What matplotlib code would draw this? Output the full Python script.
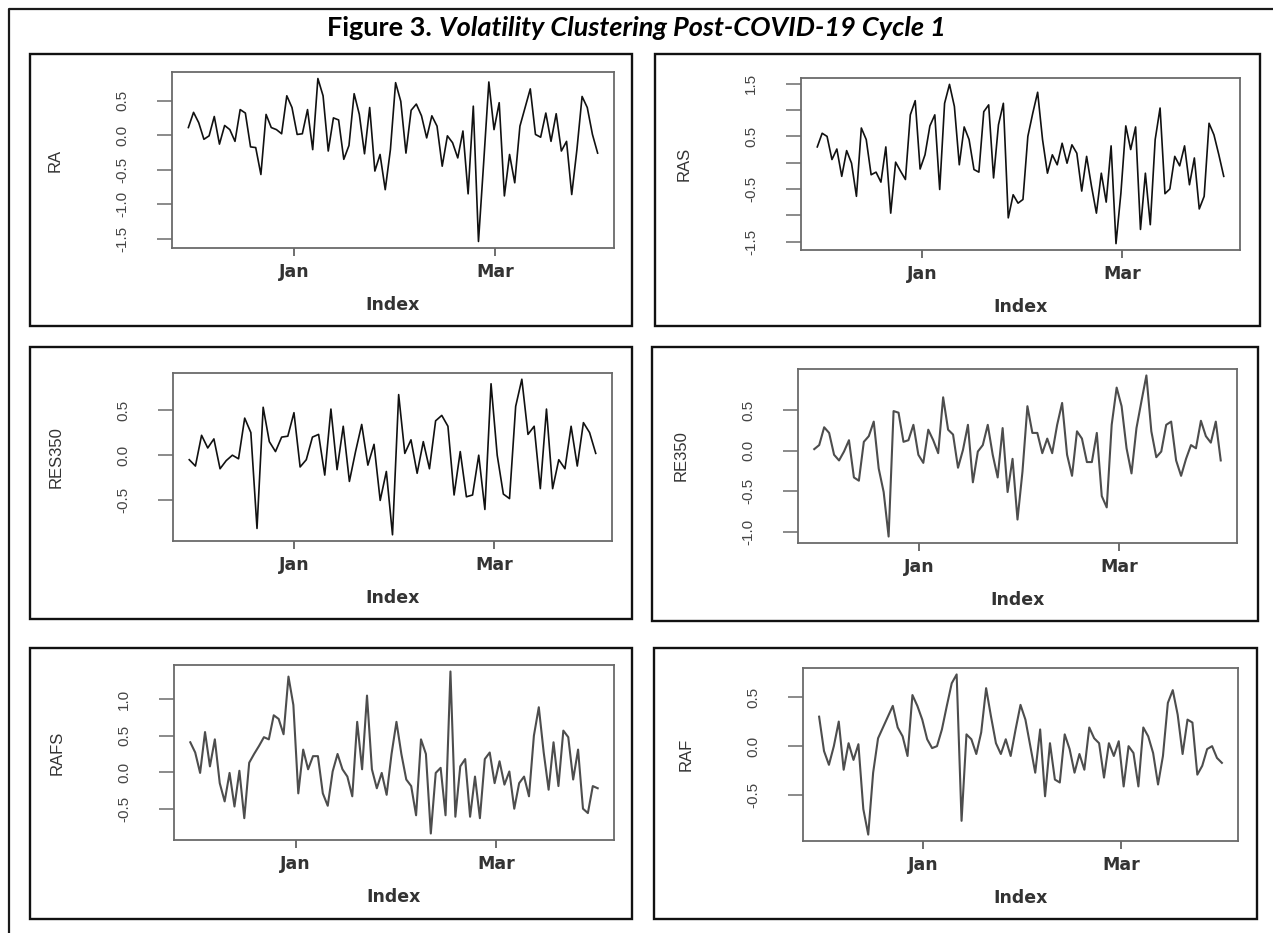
import matplotlib
matplotlib.use("Agg")
import matplotlib.pyplot as plt
import pandas as pd
from matplotlib.lines import Line2D
from matplotlib.patches import Rectangle

# series (Dec 2020 - Mar 2021)
ra = [0.11, 0.33, 0.18, -0.06, -0.01, 0.27, -0.13, 0.14, 0.08, -0.09,
      0.37, 0.32, -0.17, -0.18, -0.57, 0.30, 0.11, 0.08, 0.02, 0.57,
      0.40, 0.01, 0.02, 0.37, -0.21, 0.82, 0.57, -0.23, 0.25, 0.22,
      -0.35, -0.15, 0.60, 0.30, -0.27, 0.40, -0.52, -0.28, -0.79, -0.21,
      0.76, 0.49, -0.26, 0.36, 0.45, 0.28, -0.04, 0.28, 0.13, -0.45,
      -0.01, -0.11, -0.33, 0.06, -0.85, 0.42, -1.54, -0.40, 0.77, 0.08,
      0.47, -0.88, -0.28, -0.69, 0.13, 0.40, 0.67, 0.01, -0.03, 0.32,
      -0.09, 0.31, -0.23, -0.09, -0.86, -0.21, 0.56, 0.40, 0.01, -0.26]
ras = [0.30, 0.56, 0.50, 0.06, 0.26, -0.26, 0.23, -0.01, -0.64, 0.66,
       0.44, -0.23, -0.18, -0.37, 0.30, -0.96, 0.01, -0.16, -0.32, 0.91,
       1.18, -0.12, 0.15, 0.70, 0.91, -0.51, 1.13, 1.49, 1.07, -0.04,
       0.68, 0.44, -0.13, -0.18, 0.97, 1.10, -0.29, 0.72, 1.13, -1.05,
       -0.61, -0.77, -0.70, 0.50, 0.94, 1.34, 0.44, -0.20, 0.15, -0.04,
       0.37, -0.01, 0.34, 0.18, -0.54, 0.12, -0.45, -0.96, -0.20, -0.75,
       0.32, -1.54, -0.58, 0.70, 0.25, 0.68, -1.27, -0.20, -1.18, 0.44,
       1.04, -0.59, -0.50, 0.12, -0.06, 0.32, -0.42, 0.09, -0.88, -0.64,
       0.75, 0.53, 0.15, -0.26]
res350 = [-0.05, -0.12, 0.22, 0.08, 0.18, -0.15, -0.06, 0.00, -0.04, 0.41,
          0.25, -0.81, 0.53, 0.15, 0.04, 0.20, 0.21, 0.47, -0.13, -0.05,
          0.20, 0.23, -0.22, 0.51, -0.16, 0.32, -0.29, 0.04, 0.34, -0.11,
          0.12, -0.50, -0.18, -0.88, 0.67, 0.02, 0.17, -0.20, 0.15, -0.15,
          0.38, 0.44, 0.32, -0.44, 0.04, -0.46, -0.44, 0.00, -0.60, 0.79,
          0.00, -0.43, -0.48, 0.54, 0.84, 0.23, 0.32, -0.37, 0.51, -0.37,
          -0.05, -0.15, 0.32, -0.12, 0.36, 0.25, 0.02]
re350 = [0.02, 0.07, 0.29, 0.22, -0.05, -0.12, -0.01, 0.13, -0.33, -0.37,
         0.11, 0.18, 0.36, -0.22, -0.51, -1.06, 0.49, 0.47, 0.11, 0.13,
         0.32, -0.05, -0.15, 0.26, 0.13, -0.03, 0.66, 0.26, 0.20, -0.21,
         0.01, 0.32, -0.39, -0.01, 0.07, 0.32, -0.05, -0.33, 0.28, -0.51,
         -0.10, -0.85, -0.26, 0.55, 0.22, 0.22, -0.03, 0.15, -0.03, 0.32,
         0.59, -0.05, -0.31, 0.24, 0.15, -0.14, -0.14, 0.22, -0.56, -0.70,
         0.32, 0.78, 0.55, 0.03, -0.28, 0.28, 0.61, 0.93, 0.24, -0.08,
         -0.01, 0.32, 0.36, -0.12, -0.31, -0.10, 0.07, 0.03, 0.37, 0.18,
         0.10, 0.36, -0.12]
rafs = [0.41, 0.27, -0.01, 0.55, 0.08, 0.45, -0.15, -0.40, -0.01, -0.47,
        0.02, -0.63, 0.13, 0.25, 0.36, 0.48, 0.45, 0.78, 0.73, 0.52,
        1.31, 0.92, -0.29, 0.31, 0.04, 0.22, 0.22, -0.29, -0.46, 0.01,
        0.25, 0.04, -0.06, -0.33, 0.69, 0.04, 1.05, 0.04, -0.22, -0.01,
        -0.31, 0.25, 0.69, 0.25, -0.10, -0.19, -0.59, 0.45, 0.25, -0.84,
        -0.01, 0.06, -0.59, 1.38, -0.61, 0.08, 0.18, -0.61, -0.06, -0.63,
        0.18, 0.27, -0.15, 0.15, -0.17, 0.01, -0.50, -0.15, -0.06, -0.33,
        0.50, 0.89, 0.27, -0.24, 0.41, -0.19, 0.57, 0.48, -0.10, 0.31,
        -0.50, -0.56, -0.19, -0.22]
raf = [0.30, -0.05, -0.19, 0.00, 0.25, -0.24, 0.03, -0.14, 0.02, -0.64,
       -0.90, -0.27, 0.08, 0.19, 0.30, 0.41, 0.19, 0.10, -0.10, 0.52,
       0.41, 0.27, 0.07, -0.02, 0.00, 0.17, 0.41, 0.64, 0.73, -0.76,
       0.12, 0.07, -0.08, 0.14, 0.59, 0.30, 0.03, -0.08, 0.07, -0.10,
       0.17, 0.42, 0.27, 0.00, -0.27, 0.17, -0.51, 0.03, -0.34, -0.37,
       0.12, -0.03, -0.27, -0.08, -0.24, 0.19, 0.08, 0.03, -0.32, 0.03,
       -0.10, 0.05, -0.41, 0.00, -0.07, -0.41, 0.19, 0.10, -0.07, -0.39,
       -0.10, 0.44, 0.57, 0.32, -0.08, 0.27, 0.24, -0.29, -0.20, -0.03,
       0.00, -0.12, -0.17]

names = ["RA", "RAS", "RES350", "RE350", "RAFS", "RAF"]
series = [ra, ras, res350, re350, rafs, raf]
start, end = "2020-12-01", "2021-03-31"
month_ticks = ["2021-01-01", "2021-03-01"]
month_labels = ["Jan", "Mar"]
yticks = [
    ([-1.5, -1.0, -0.5, 0.0, 0.5], ["-1.5", "-1.0", "-0.5", "0.0", "0.5"]),
    ([-1.5, -1.0, -0.5, 0.0, 0.5, 1.0, 1.5], ["-1.5", "", "-0.5", "", "0.5", "", "1.5"]),
    ([-0.5, 0.0, 0.5], ["-0.5", "0.0", "0.5"]),
    ([-1.0, -0.5, 0.0, 0.5], ["-1.0", "-0.5", "0.0", "0.5"]),
    ([-0.5, 0.0, 0.5, 1.0], ["-0.5", "0.0", "0.5", "1.0"]),
    ([-0.5, 0.0, 0.5], ["-0.5", "0.0", "0.5"]),
]

W, H = 1273, 933
fig = plt.figure(figsize=(W / 100, H / 100), dpi=100)

# layout in pixels: outer panel boxes and inner plot areas
boxes = [(30, 54, 632, 326), (655, 54, 1260, 326),
         (30, 347, 632, 619), (652, 347, 1258, 621),
         (30, 648, 632, 919), (654, 648, 1257, 919)]
areas = [(172, 72, 614, 248), (801, 78, 1240, 250),
         (173, 373, 612, 541), (798, 369, 1237, 543),
         (174, 665, 614, 840), (803, 668, 1238, 841)]
line_colors = ["#111111", "#111111", "#111111", "#4d4d4d", "#4d4d4d", "#4d4d4d"]
line_widths = [1.2, 1.2, 1.2, 1.5, 1.5, 1.5]

narrow = ["Liberation Sans Narrow", "Liberation Sans", "DejaVu Sans"]

def rect(x0, y0, x1, y1):
    return [x0 / W, 1 - y1 / H, (x1 - x0) / W, (y1 - y0) / H]

# outer frame (top and left edges visible)
fig.add_artist(Line2D([9 / W, 9 / W, 1], [0, 1 - 9 / H, 1 - 9 / H], color="#1a1a1a", lw=1.6))

for i, (name, vals) in enumerate(zip(names, series)):
    bx = rect(*boxes[i])
    fig.add_artist(Rectangle((bx[0], bx[1]), bx[2], bx[3], fill=False,
                             edgecolor="#111111", lw=1.7, transform=fig.transFigure))
    ax = fig.add_axes(rect(*areas[i]))
    dates = pd.date_range(start, end, periods=len(vals))
    ax.plot(dates, vals, color=line_colors[i], lw=line_widths[i])
    ax.margins(x=0.04, y=0.04)
    for s in ax.spines.values():
        s.set_color("#6a6a6a")
        s.set_linewidth(1.3)
    ax.set_xticks(pd.to_datetime(month_ticks))
    ax.set_xticklabels(month_labels, fontsize=12.5, fontweight="bold", color="#333333")
    ax.tick_params(axis="x", length=6, width=1.2, color="#555555", pad=5)
    ax.set_yticks(yticks[i][0])
    ax.set_yticklabels(yticks[i][1], rotation=90, fontsize=11, color="#444444",
                       family=narrow, va="center")
    ax.tick_params(axis="y", length=11, width=1.2, color="#777777", pad=20)
    h_px = areas[i][3] - areas[i][1]
    w_px = areas[i][2] - areas[i][0]
    ax.set_xlabel("Index", fontsize=12.5, fontweight="bold", color="#333333")
    ax.xaxis.set_label_coords(0.5, -57 / h_px)
    ax.xaxis.label.set_va("center")
    ax.set_ylabel(name, fontsize=12, color="#333333", family=narrow)
    ax.yaxis.set_label_coords(-117 / w_px, 0.5)
    ax.yaxis.label.set_va("center")

# title: bold lead-in followed by bold italic caption
ty = 1 - 28 / H
t1 = fig.text(0, ty, "Figure 3. ", fontsize=19.5, fontweight="bold", family=["Lato", "DejaVu Sans"],
              va="center", ha="left")
t2 = fig.text(0, ty, "Volatility Clustering Post-COVID-19 Cycle 1", fontsize=19.5, fontweight="bold",
              style="italic", family=["Lato", "DejaVu Sans"], va="center", ha="left")
r = fig.canvas.get_renderer()
w1 = t1.get_window_extent(r).width / W
w2 = t2.get_window_extent(r).width / W
x0 = 0.5 - (w1 + w2) / 2
t1.set_x(x0)
t2.set_x(x0 + w1)

fig.savefig("out.png", dpi=100)
